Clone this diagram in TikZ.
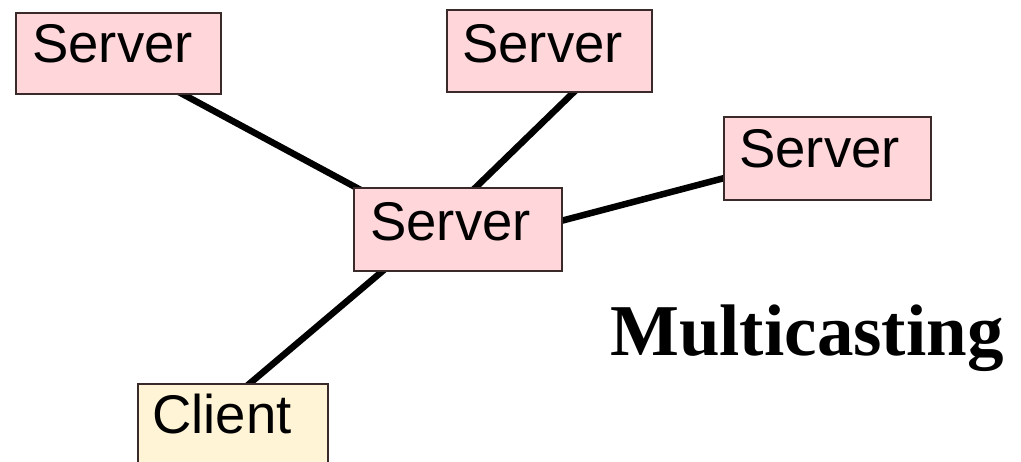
\documentclass[tikz,border=0pt]{standalone}
\usepackage{fontspec}
\setmainfont{Liberation Sans}
\newfontfamily\titlefont{Liberation Serif}
\usetikzlibrary{backgrounds}
\definecolor{srvfill}{HTML}{FFD6DA}
\definecolor{clifill}{HTML}{FFF4D6}
\definecolor{edgecol}{HTML}{3A2A2A}
\tikzset{
  box/.style={draw=edgecol, line width=2pt, anchor=north west, inner sep=0pt, rectangle},
  srv/.style={box, fill=srvfill},
  cli/.style={box, fill=clifill},
  lbl/.style={anchor=base west, inner sep=0pt, font=\fontsize{54.5}{60}\selectfont},
  link/.style={line width=6.5pt, black}
}
\begin{document}
\begin{tikzpicture}[x=1pt,y=-1pt]
\useasboundingbox (0,0) rectangle (1021,462);
\node[srv, minimum width=205pt, minimum height=81pt] (b1) at (15,12) {};
\node[srv, minimum width=205pt, minimum height=82pt] (b2) at (446,9) {};
\node[srv, minimum width=207pt, minimum height=83pt] (b3) at (723,116) {};
\node[srv, minimum width=208pt, minimum height=83pt] (c) at (353,187) {};
\node[cli, minimum width=190pt, minimum height=95pt] (cl) at (137,383) {};
\node[lbl] (t1) at (32,63) {Server};
\node[lbl] (t2) at (462,63) {Server};
\node[lbl] (t3) at (739,168) {Server};
\node[lbl] (tc) at (370,241) {Server};
\node[lbl] (tcl) at (152,434) {Client};
\node[anchor=base west, inner sep=0pt, font=\titlefont\bfseries\fontsize{73}{80}\selectfont] (title) at (610,356) {Multicasting};
\begin{scope}[on background layer]
\draw[link] ([xshift=160pt,yshift=5pt]b1.south west) -- ([xshift=17pt,yshift=-8pt]c.north west);
\draw[link] ([xshift=130pt,yshift=3pt]b2.south west) -- ([xshift=119pt,yshift=-4pt]c.north west);
\draw[link] ([xshift=-6pt,yshift=-35pt]c.north east) -- ([xshift=9pt,yshift=-60pt]b3.north west);
\draw[link] ([xshift=32pt,yshift=3pt]c.south west) -- ([xshift=108pt,yshift=-4.5pt]cl.north west);
\end{scope}
\end{tikzpicture}
\end{document}
